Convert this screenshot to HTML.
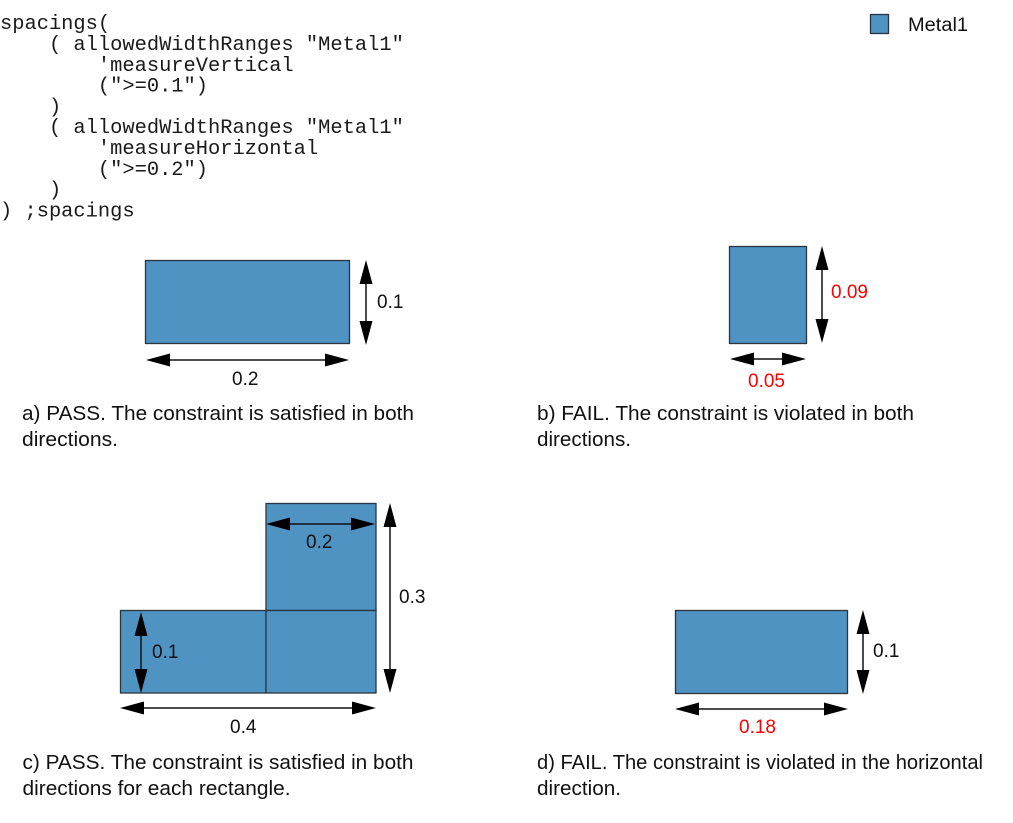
<!DOCTYPE html>
<html>
<head>
<meta charset="utf-8">
<style>
  html, body { margin:0; padding:0; background:#fff; }
  body { width:1013px; height:823px; overflow:hidden; }
  svg { display:block; }
  .code { font-family: "Liberation Mono", "Courier New", monospace; font-size:20.4px; fill:#1a1a1a; white-space:pre; }
  .cap { font-family: "Liberation Sans", Arial, sans-serif; font-size:20px; fill:#111; }
  .dim { font-family: "Liberation Sans", Arial, sans-serif; font-size:19px; fill:#111; }
  .red { fill:#ff0000; }
  .m { fill:#4f93c3; stroke:#2b3540; stroke-width:1.3; }
  .ln { stroke:#111; stroke-width:1.5; }
  .ah { fill:#000; }
</style>
</head>
<body>
<svg width="1013" height="823" viewBox="0 0 1013 823" xmlns="http://www.w3.org/2000/svg">
  <!-- code -->
  <text class="code" xml:space="preserve" x="0" y="29">spacings(</text>
  <text class="code" xml:space="preserve" x="0" y="50">    ( allowedWidthRanges "Metal1"</text>
  <text class="code" xml:space="preserve" x="0" y="70.8">        'measureVertical</text>
  <text class="code" xml:space="preserve" x="0" y="91.6">        ("&gt;=0.1")</text>
  <text class="code" xml:space="preserve" x="0" y="112.4">    )</text>
  <text class="code" xml:space="preserve" x="0" y="133.2">    ( allowedWidthRanges "Metal1"</text>
  <text class="code" xml:space="preserve" x="0" y="154">        'measureHorizontal</text>
  <text class="code" xml:space="preserve" x="0" y="174.8">        ("&gt;=0.2")</text>
  <text class="code" xml:space="preserve" x="0" y="195.6">    )</text>
  <text class="code" xml:space="preserve" x="0" y="216.4">) ;spacings</text>

  <!-- legend -->
  <rect class="m" x="870.5" y="14.5" width="18" height="19"/>
  <text class="dim" x="908" y="31" textLength="60" lengthAdjust="spacingAndGlyphs">Metal1</text>

  <!-- Figure a -->
  <rect class="m" x="145.5" y="260.5" width="204" height="83"/>
  <line class="ln" x1="366" y1="280" x2="366" y2="325"/>
  <polygon class="ah" points="366,260 359.5,284 372.5,284"/>
  <polygon class="ah" points="366,345 359.5,321 372.5,321"/>
  <text class="dim" x="377" y="308">0.1</text>
  <line class="ln" x1="165" y1="360" x2="330" y2="360"/>
  <polygon class="ah" points="146,360 170,353.5 170,366.5"/>
  <polygon class="ah" points="349,360 325,353.5 325,366.5"/>
  <text class="dim" x="232" y="385">0.2</text>

  <text class="cap" x="22" y="420" textLength="392" lengthAdjust="spacingAndGlyphs">a) PASS. The constraint is satisfied in both</text>
  <text class="cap" x="22" y="446" textLength="96" lengthAdjust="spacingAndGlyphs">directions.</text>

  <!-- Figure b -->
  <rect class="m" x="729.5" y="246.5" width="77" height="97"/>
  <line class="ln" x1="822" y1="266" x2="822" y2="323"/>
  <polygon class="ah" points="822,246 815.5,270 828.5,270"/>
  <polygon class="ah" points="822,343 815.5,319 828.5,319"/>
  <text class="dim red" x="831" y="298">0.09</text>
  <line class="ln" x1="750" y1="359" x2="786" y2="359"/>
  <polygon class="ah" points="730,359 754,352.5 754,365.5"/>
  <polygon class="ah" points="806,359 782,352.5 782,365.5"/>
  <text class="dim red" x="748" y="387">0.05</text>

  <text class="cap" x="537" y="420" textLength="377" lengthAdjust="spacingAndGlyphs">b) FAIL. The constraint is violated in both</text>
  <text class="cap" x="537" y="446" textLength="94" lengthAdjust="spacingAndGlyphs">directions.</text>

  <!-- Figure c -->
  <rect class="m" x="120.5" y="610.5" width="145.5" height="82.5"/>
  <rect class="m" x="266" y="503.5" width="110" height="107"/>
  <rect class="m" x="266" y="610.5" width="110" height="82.5"/>
  <line class="ln" x1="286" y1="524" x2="355" y2="524"/>
  <polygon class="ah" points="266,524 290,517.5 290,530.5"/>
  <polygon class="ah" points="375,524 351,517.5 351,530.5"/>
  <text class="dim" x="306" y="548">0.2</text>
  <line class="ln" x1="390" y1="523" x2="390" y2="673"/>
  <polygon class="ah" points="390,503 383.5,527 396.5,527"/>
  <polygon class="ah" points="390,693 383.5,669 396.5,669"/>
  <text class="dim" x="399" y="603">0.3</text>
  <line class="ln" x1="141" y1="630" x2="141" y2="673"/>
  <polygon class="ah" points="141,612 134.5,636 147.5,636"/>
  <polygon class="ah" points="141,693 134.5,669 147.5,669"/>
  <text class="dim" x="152" y="658">0.1</text>
  <line class="ln" x1="140" y1="708" x2="356" y2="708"/>
  <polygon class="ah" points="120,708 144,701.5 144,714.5"/>
  <polygon class="ah" points="376,708 352,701.5 352,714.5"/>
  <text class="dim" x="230" y="733">0.4</text>

  <text class="cap" x="22.5" y="769" textLength="391" lengthAdjust="spacingAndGlyphs">c) PASS. The constraint is satisfied in both</text>
  <text class="cap" x="22.5" y="795" textLength="268" lengthAdjust="spacingAndGlyphs">directions for each rectangle.</text>

  <!-- Figure d -->
  <rect class="m" x="675.5" y="610.5" width="172" height="83"/>
  <line class="ln" x1="863" y1="630" x2="863" y2="674"/>
  <polygon class="ah" points="863,610 856.5,634 869.5,634"/>
  <polygon class="ah" points="863,694 856.5,670 869.5,670"/>
  <text class="dim" x="873" y="657">0.1</text>
  <line class="ln" x1="695" y1="709" x2="828" y2="709"/>
  <polygon class="ah" points="675,709 699,702.5 699,715.5"/>
  <polygon class="ah" points="848,709 824,702.5 824,715.5"/>
  <text class="dim red" x="739" y="733">0.18</text>

  <text class="cap" x="537" y="769" textLength="446" lengthAdjust="spacingAndGlyphs">d) FAIL. The constraint is violated in the horizontal</text>
  <text class="cap" x="537" y="795" textLength="84" lengthAdjust="spacingAndGlyphs">direction.</text>
</svg>
</body>
</html>
